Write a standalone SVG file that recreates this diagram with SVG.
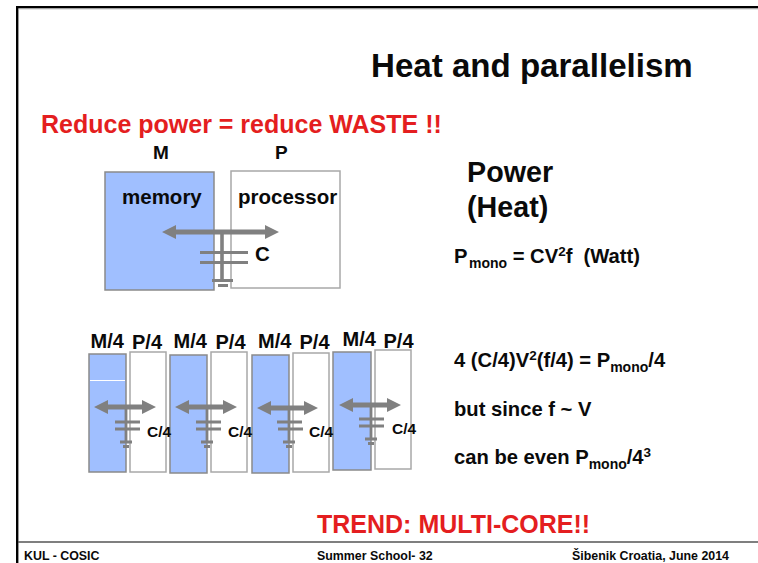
<svg xmlns="http://www.w3.org/2000/svg" width="758" height="563" viewBox="0 0 758 563">
<style>
text{font-family:"Liberation Sans",Arial,sans-serif;font-weight:bold;fill:#0a0a0a}
.red{fill:#e41e20;font-size:25px}
.mem{fill:#a0bfff;stroke:#8a8a8a;stroke-width:1.5}
.pro{fill:#fff;stroke:#a8a8a8;stroke-width:1.5}
.w{stroke:#808080;fill:none;stroke-width:2.800}
.bar{stroke-width:5}
.hd{fill:#808080;stroke:none}
.n{font-size:20.500px}
.s{font-size:20px}
.f{font-size:19px}
.c{font-size:15.500px}
.h{font-size:28.700px}
.e{font-size:20.200px}
.sub{font-size:14px}
.sup{font-size:13.500px}
.ft{font-size:12.400px}
</style>
<rect width="758" height="563" fill="#fff"/>
<path d="M17.200 563V7.200H758" fill="none" stroke="#000" stroke-width="2.400"/>
<path d="M18.500 8.900H758" fill="none" stroke="#bbb" stroke-width="1"/>
<path d="M18 542H758" fill="none" stroke="#555" stroke-width="1.300"/>
<text id="title" x="371" y="77" font-size="33.100">Heat and parallelism</text>
<text class="red" x="41" y="132.500">Reduce power = reduce WASTE !!</text>
<g id="node-memory"><rect class="mem" x="105" y="172" width="109" height="118"/><text x="122" y="204" class="n">memory</text><text x="153" y="159" class="f">M</text></g>
<g id="node-processor"><rect class="pro" x="231" y="171" width="109" height="117"/><text x="238" y="204" class="n">processor</text><text x="275" y="159" class="f">P</text></g>
<g id="node-m1"><rect class="mem" x="89" y="354" width="37" height="118"/><path d="M90 380.500H125" stroke="#fff"/><text x="90.500" y="348" class="s">M/4</text></g>
<g id="node-p1"><rect class="pro" x="130" y="352" width="36" height="120"/><text x="132" y="349" class="s">P/4</text></g>
<g id="node-m2"><rect class="mem" x="170" y="355" width="37" height="118"/><text x="173.500" y="348" class="s">M/4</text></g>
<g id="node-p2"><rect class="pro" x="211" y="352" width="36" height="120"/><text x="215.500" y="349" class="s">P/4</text></g>
<g id="node-m3"><rect class="mem" x="252" y="355" width="37" height="118"/><text x="258" y="348" class="s">M/4</text></g>
<g id="node-p3"><rect class="pro" x="293" y="353" width="36" height="119"/><text x="299.500" y="349" class="s">P/4</text></g>
<g id="node-m4"><rect class="mem" x="333" y="352" width="38" height="118"/><text x="342.500" y="346" class="s">M/4</text></g>
<g id="node-p4"><rect class="pro" x="375" y="350" width="36" height="119"/><text x="383.500" y="348" class="s">P/4</text></g>
<g id="connectors">
<g id="u0" class="w">
<path class="bar" d="M172 232H269"/>
<path d="M222 232V280" stroke-width="3.600"/>
<path d="M200 252.500H248M200 262.500H248M212 280.500H233M218 285.500H228"/>
<path class="hd" d="M162 232L176 225V239ZM279 232L265 225V239Z"/>
</g>
<g id="u1" class="w">
<path class="bar" d="M102 407H148"/>
<path d="M126 407V442"/>
<path d="M115 422H140M115 429H140M120 442H132M123 446.500H129"/>
<path class="hd" d="M94 407L108 400V414ZM156 407L142 400V414Z"/>
</g>
<g id="u2" class="w">
<path class="bar" d="M183 407H229"/>
<path d="M207 407V442"/>
<path d="M196 422H221M196 429H221M201 442H213M204 446.500H210"/>
<path class="hd" d="M175 407L189 400V414ZM237 407L223 400V414Z"/>
</g>
<g id="u3" class="w">
<path class="bar" d="M265 408H310"/>
<path d="M289 408V442"/>
<path d="M277 422H302M278 429H303M283 442H295M286 446.500H292"/>
<path class="hd" d="M257 408L271 401V415ZM318 408L304 401V415Z"/>
</g>
<g id="u4" class="w">
<path class="bar" d="M347 405H393"/>
<path d="M371 405V439"/>
<path d="M359 419H384M359 426H384M365 439H377M368 443.500H374"/>
<path class="hd" d="M339 405L353 398V412ZM401 405L387 398V412Z"/>
</g>
</g>
<text x="255" y="261" class="n">C</text>
<text x="147" y="437" class="c">C/4</text>
<text x="228" y="437" class="c">C/4</text>
<text x="309" y="437" class="c">C/4</text>
<text x="392" y="434" class="c">C/4</text>
<text x="467" y="182" class="h">Power</text>
<text x="467" y="217" class="h">(Heat)</text>
<text x="454" y="263" class="e">P<tspan class="sub" dy="5" dx="1.500">mono</tspan><tspan dy="-5"> = CV</tspan><tspan class="sup" dy="-7">2</tspan><tspan dy="7">f&#160;&#160;(Watt)</tspan></text>
<text x="454" y="367" class="e">4 (C/4)V<tspan class="sup" dy="-7">2</tspan><tspan dy="7">(f/4) = P</tspan><tspan class="sub" dy="5">mono</tspan><tspan dy="-5">/4</tspan></text>
<text x="454" y="416" class="e">but since f ~ V</text>
<text x="454" y="464" class="e">can be even P<tspan class="sub" dy="5">mono</tspan><tspan dy="-5">/4</tspan><tspan class="sup" dy="-7">3</tspan></text>
<text class="red" x="317" y="533">TREND: MULTI-CORE!!</text>
<text x="24" y="560" class="ft">KUL - COSIC</text>
<text x="317" y="560" class="ft">Summer School- 32</text>
<text x="572" y="560" class="ft">Šibenik Croatia, June 2014</text>
</svg>
